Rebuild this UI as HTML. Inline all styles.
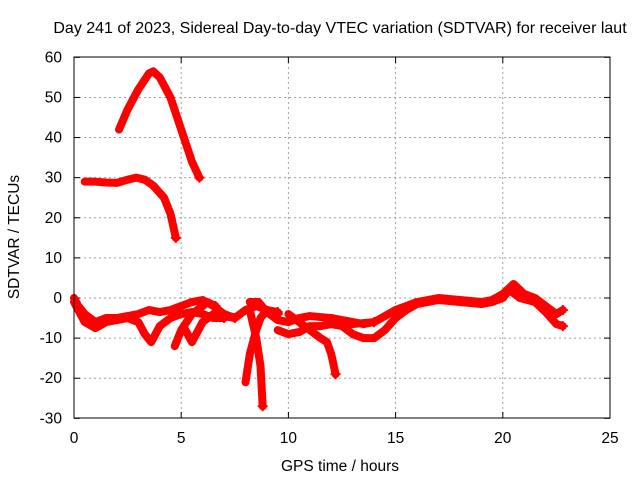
<!DOCTYPE html>
<html><head><meta charset="utf-8"><style>
body{margin:0;background:#fff}
svg text{font-family:"Liberation Sans",sans-serif;font-size:15.5px;fill:#000}
</style></head><body>
<svg id="chart" width="640" height="480" xmlns="http://www.w3.org/2000/svg">
<rect width="640" height="480" fill="#fff"/>
<text x="340" y="33" text-anchor="middle" style="font-size:16px">Day 241 of 2023, Sidereal Day-to-day VTEC variation (SDTVAR) for receiver laut</text>
<text x="340" y="471" text-anchor="middle">GPS time / hours</text>
<text transform="translate(19,237) rotate(-90)" text-anchor="middle">SDTVAR / TECUs</text>
<g id="grid"></g>
<g id="ticks"></g>
<g id="series"></g>
<rect x="74" y="57" width="536" height="361" fill="none" stroke="#000" stroke-width="1"/>
</svg>
<script>
const xTicks=[0,5,10,15,20,25];
const yTicks=[-30,-20,-10,0,10,20,30,40,50,60];
const s1=[[2.1,42],[2.5,47],[3,52],[3.5,56],[3.7,56.5],[4,55],[4.5,50],[5,42],[5.5,34],[5.85,30]];
const s2=[[0.5,29],[1,29],[1.5,28.8],[2,28.7],[2.5,29.5],[2.9,30],[3.3,29.5],[3.7,28],[4.2,25],[4.5,21],[4.75,15]];
const sA=[[0,0],[0.2,-2],[0.5,-4],[1,-6],[1.5,-5],[2,-5],[2.5,-4.5],[3,-4],[3.5,-3],[4,-3.5],[4.5,-3],[5,-2],[5.5,-1],[6,-0.5],[6.5,-2],[7,-4],[7.5,-5],[8,-3],[8.5,-2],[9,-3],[9.5,-4]];
const sB=[[0,-1],[0.5,-6],[1,-7.5],[1.5,-6],[2,-5.5],[2.5,-5],[3,-6],[3.3,-9],[3.6,-11],[4,-7],[4.5,-5],[5,-4],[5.5,-3.5],[6,-4],[6.5,-5],[7,-5]];
const sC=[[4.7,-12],[5,-8],[5.5,-4],[6,-2],[6.2,-1],[6.6,-2]];
const sC2=[[5.2,-8],[5.5,-11],[6,-6],[6.5,-4],[7,-4.5],[7.5,-5]];
const sD=[[8,-21],[8.2,-14],[8.5,-8],[8.7,-5],[9,-3],[9.5,-3.5]];
const sD2=[[8.2,-3],[8.5,-10],[8.7,-17],[8.8,-27]];
const sE=[[8.2,-1],[8.6,-1],[9,-3.5],[9.5,-5.5],[10,-6],[10.5,-5],[11,-4.5],[12,-5],[13,-6],[13.5,-6.5],[14,-6],[15,-3],[15.5,-2],[16,-1],[17,0],[18,-0.5],[19,-1],[19.5,-0.5],[20,1],[20.5,3.5],[21,1],[21.5,0],[22,-2],[22.5,-4],[22.8,-3]];
const sF=[[9.5,-8],[10,-9],[10.5,-8.5],[11,-7],[11.5,-7],[12,-6.5],[12.5,-7],[13,-9],[13.5,-10],[14,-10],[14.5,-8],[15,-5],[15.5,-3],[16,-1.5],[17,-0.5],[18,-1],[19,-1.5],[19.5,-1],[20,0],[20.3,2],[20.8,0],[21.5,-1],[22,-3.5],[22.5,-6.5],[22.8,-7]];
const sG=[[10,-4],[10.5,-6],[11,-8],[11.5,-10],[11.8,-11],[12,-14],[12.2,-19]];
const sH=[[12,-5],[12.5,-6.5],[13,-6.5],[14,-6]];
const allSeries=[s1,s2,sA,sB,sC,sC2,sD,sD2,sE,sF,sG,sH];
const X=t=>74+t*536/25, Y=v=>298-v*361/90;
const NS="http://www.w3.org/2000/svg";
const g=document.getElementById('grid'),tk=document.getElementById('ticks'),se=document.getElementById('series');
function mk(tag,a,p){const e=document.createElementNS(NS,tag);for(const k in a)e.setAttribute(k,a[k]);p.appendChild(e);return e;}
xTicks.forEach(t=>{const x=X(t);
 if(t>0&&t<25){const l=mk('line',{x1:x,x2:x,y1:57,y2:418,stroke:'#a0a0a0','stroke-dasharray':'2,3'},g);}
 mk('line',{x1:x,x2:x,y1:418,y2:412,stroke:'#000'},tk);mk('line',{x1:x,x2:x,y1:57,y2:63,stroke:'#000'},tk);
 const tx=mk('text',{x:x,y:443,'text-anchor':'middle'},tk);tx.textContent=t;
 });
yTicks.forEach(v=>{const y=Y(v);
 if(v>-30&&v<60){const l=mk('line',{x1:74,x2:610,y1:y,y2:y,stroke:'#a0a0a0','stroke-dasharray':'2,3'},g);}
 mk('line',{x1:74,x2:80,y1:y,y2:y,stroke:'#000'},tk);mk('line',{x1:610,x2:604,y1:y,y2:y,stroke:'#000'},tk);
 const tx=mk('text',{x:62,y:y+5,'text-anchor':'end'},tk);tx.textContent=v;
 });
allSeries.forEach(s=>{
 const pl=mk('polyline',{points:s.map(p=>X(p[0])+','+Y(p[1])).join(' '),fill:'none',stroke:'#f00','stroke-width':8,'stroke-linejoin':'round','stroke-linecap':'round'},se);
 
 
 const last=s[s.length-1],x=X(last[0]),y=Y(last[1]);
 const m=mk('path',{d:`M${x-5},${y}h10M${x},${y-5}v10`,stroke:'#f00','stroke-width':2},se);
 
 
});
</script>
</body></html>
